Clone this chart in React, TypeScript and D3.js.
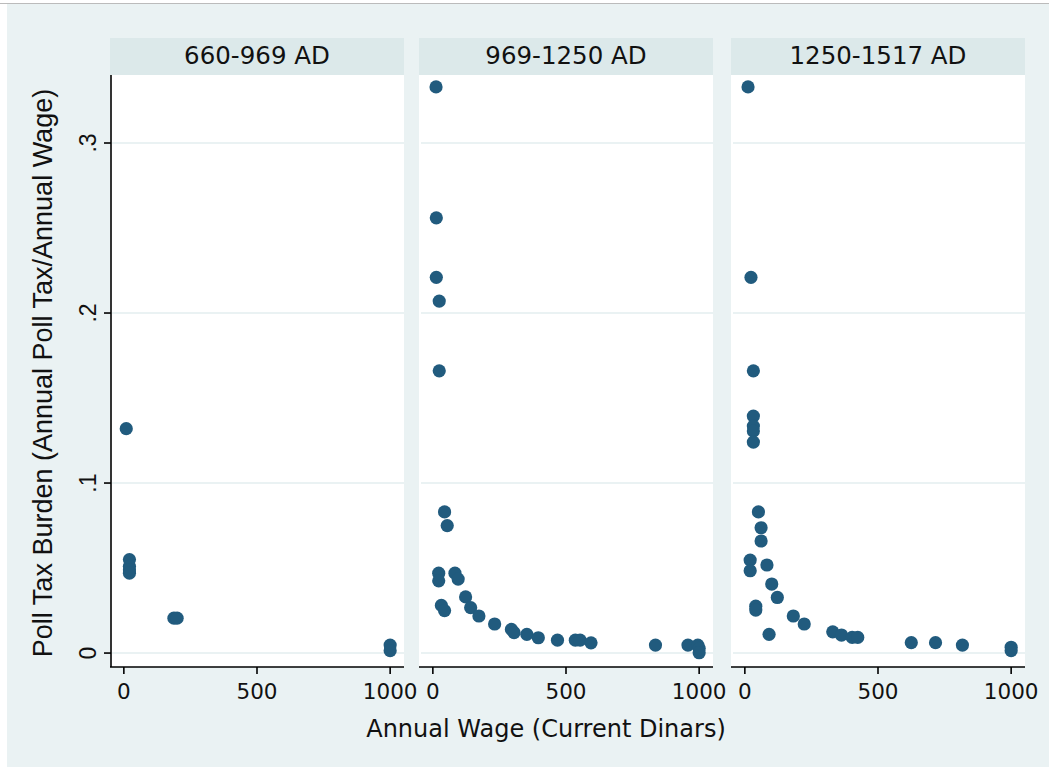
import React from "react"
import * as d3 from "d3"

const panels = ["660-969 AD", "969-1250 AD", "1250-1517 AD"]

// annual wage (current dinars) and poll tax burden, one pair of arrays per period
const wage1 = [9, 21, 21, 21, 21, 188, 200, 1000, 1000]
const burden1 = [0.132, 0.055, 0.051, 0.049, 0.047, 0.0205, 0.0205, 0.0047, 0.0014]

const wage2 = [12, 13, 13, 24, 24, 44, 54, 22, 22, 83, 95, 123, 32, 44, 142, 173, 232, 295, 305, 353, 396, 468, 535, 553, 594, 836, 958, 995, 1000, 1000]
const burden2 = [0.333, 0.256, 0.221, 0.207, 0.166, 0.083, 0.075, 0.047, 0.0425, 0.047, 0.0435, 0.033, 0.028, 0.025, 0.0267, 0.0218, 0.0171, 0.0139, 0.012, 0.011, 0.009, 0.0076, 0.0076, 0.0076, 0.006, 0.0047, 0.0047, 0.0047, 0.0028, 0.0002]

const wage3 = [12, 23, 32, 32, 32, 32, 32, 51, 61, 61, 20, 20, 83, 101, 122, 41, 41, 91, 182, 223, 330, 363, 403, 424, 625, 716, 817, 1000, 1000]
const burden3 = [0.333, 0.221, 0.166, 0.1394, 0.1335, 0.1306, 0.1241, 0.083, 0.0737, 0.0659, 0.0547, 0.0484, 0.0518, 0.0406, 0.0327, 0.0276, 0.0253, 0.011, 0.0218, 0.0171, 0.0125, 0.0106, 0.0092, 0.0092, 0.0061, 0.0061, 0.0047, 0.0034, 0.0014]

const xTicks = [0, 500, 1000]
const yTicks = [0, 0.1, 0.2, 0.3]
const yTickLabels = ["0", ".1", ".2", ".3"]

const wages = [wage1, wage2, wage3]
const burdens = [burden1, burden2, burden3]

const W = 1049, H = 767
const panelLeft = [110, 419, 731]
const panelW = 294
const stripTop = 38, plotTop = 75, plotBottom = 667

const bg = "#eaf2f3"
const strip = "#dce9ea"
const dot = "#215b7e"
const xFont = "'DejaVu Sans', sans-serif"
const yFont = "'Liberation Sans', Arial, sans-serif"

const App = () => {
    const y = d3.scaleLinear().domain([-0.0082, 0.34]).range([plotBottom, plotTop])

    return (
        <svg width={W} height={H} style={{position: "absolute", left: 0, top: 0}}>
            <rect x={0} y={0} width={W} height={H} fill="#fff" />
            <rect x={7} y={3} width={W - 7} height={H - 3} fill={bg} />
            <line x1={0} x2={W} y1={3.5} y2={3.5} stroke="#bbb" strokeWidth={1} />

            {panels.map((name, i) => {
                const left = panelLeft[i]
                const x = d3.scaleLinear().domain([-52, 1052]).range([left, left + panelW])
                return (
                    <g key={name}>
                        <rect x={left} y={stripTop} width={panelW} height={plotTop - stripTop} fill={strip} />
                        <text x={left + panelW / 2} y={64} textAnchor="middle" fontFamily={xFont} fontSize={24.5} fill="#111">{name}</text>
                        <rect x={left} y={plotTop} width={panelW} height={plotBottom - plotTop} fill="#fff" />
                        {yTicks.map(t => (
                            <line key={t} x1={left + 2} x2={left + panelW} y1={y(t)} y2={y(t)} stroke={bg} strokeWidth={2} />
                        ))}
                        {wages[i].map((w, j) => (
                            <circle key={j} cx={x(w)} cy={y(burdens[i][j])} r={6.6} fill={dot} />
                        ))}
                        <line x1={left} x2={left + panelW} y1={plotBottom} y2={plotBottom} stroke="#000" strokeWidth={1.6} />
                        {xTicks.map(t => (
                            <g key={t}>
                                <line x1={x(t)} x2={x(t)} y1={plotBottom} y2={plotBottom + 7} stroke="#000" strokeWidth={1.6} />
                                <text x={x(t)} y={699} textAnchor="middle" fontFamily={xFont} fontSize={21.5} fill="#111">{t}</text>
                            </g>
                        ))}
                    </g>
                )
            })}

            <line x1={111} x2={111} y1={plotTop} y2={plotBottom} stroke="#000" strokeWidth={1.6} />
            {yTicks.map((t, i) => (
                <g key={t}>
                    <line x1={104} x2={111} y1={y(t)} y2={y(t)} stroke="#000" strokeWidth={1.6} />
                    <text transform={`translate(96,${y(t)}) rotate(-90)`} textAnchor="middle" fontFamily={yFont} fontSize={23} fill="#111">{yTickLabels[i]}</text>
                </g>
            ))}

            <text transform={`translate(52,373) rotate(-90)`} textAnchor="middle" fontFamily={yFont} fontSize={27} fill="#111">Poll Tax Burden (Annual Poll Tax/Annual Wage)</text>
            <text x={546} y={737} textAnchor="middle" fontFamily={xFont} fontSize={24} fill="#111">Annual Wage (Current Dinars)</text>
        </svg>
    )
}

export default App
